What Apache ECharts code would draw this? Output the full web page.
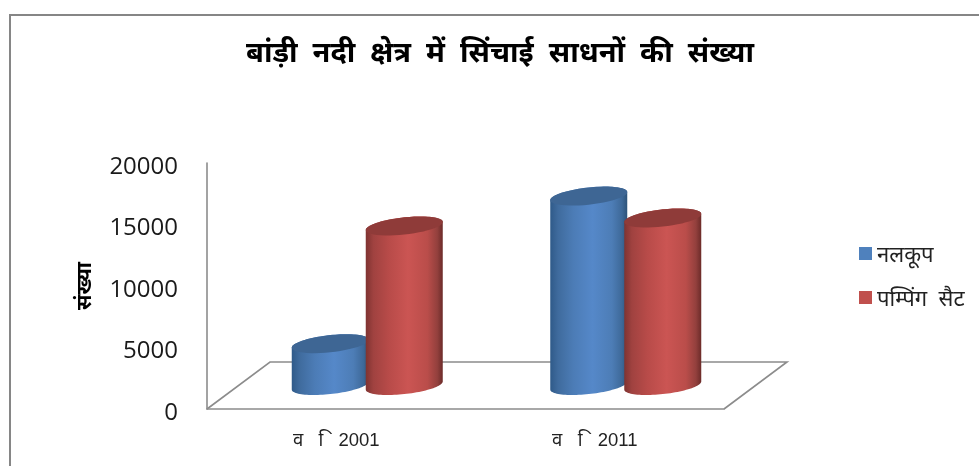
<!DOCTYPE html>
<html>
<head>
<meta charset="utf-8">
<style>html,body{margin:0;padding:0;background:#fff}#chart{width:979px;height:466px}</style>
<script src="https://cdn.jsdelivr.net/npm/echarts@6/dist/echarts.min.js"></script>
</head>
<body>
<div id="chart"></div>
<script>
// Irrigation sources in the Bandi river area
const categories = ['व\u00A0\u00A0\u00A0\u00A0ि\u00A0\u00A02001', 'व\u00A0\u00A0\u00A0\u00A0ि\u00A0\u00A02011'];
const tubewells = [3400, 15400];
const pumpsets = [12970, 13620];
const yTicks = { min: 0, max: 20000, interval: 5000 };

const titleText = 'बांड़ी  नदी  क्षेत्र  में  सिंचाई  साधनों  की  संख्या';
const yName = 'संख्या';
const nameTube = 'नलकूप';
const namePump = 'पम्पिंग  सैट';

const DEVA = '"Noto Sans Devanagari","Lohit Devanagari","Noto Sans","Liberation Sans","DejaVu Sans",sans-serif';
const LATIN_FIRST = '"Liberation Sans",' + DEVA;

// Floor depth of the pseudo 3D plot, and cylinder proportions
const depthX = 63, depthY = 47;
const radiusX = 38.5, radiusY = 8.6, tilt = 0.105;

function ellipsePoint(cx, cy, t) {
  const c = Math.cos(t), s = Math.sin(t);
  return [cx + radiusX * c, cy + radiusY * s - tilt * radiusX * c];
}
function arc(cx, cy, from, to) {
  const pts = [];
  for (let i = 0; i <= 48; i++) pts.push(ellipsePoint(cx, cy, from + (to - from) * i / 48));
  return pts;
}

function cylinderSeries(name, values, offset, swatch, stops, lid) {
  return {
    name, type: 'custom', data: values.map((v, i) => [i, v]),
    itemStyle: { color: swatch }, z: 3,
    encode: { x: 0, y: 1 },
    renderItem(params, api) {
      const top = api.coord([api.value(0), api.value(1)]);
      const base = api.coord([api.value(0), 0]);
      const cx = base[0] + depthX / 2 + offset;
      const baseY = base[1] - depthY / 2;
      const topY = top[1] - depthY / 2;
      const body = arc(cx, baseY, 0, Math.PI).concat(arc(cx, topY, Math.PI, 2 * Math.PI));
      return {
        type: 'group',
        children: [
          { type: 'polygon', shape: { points: body },
            style: { fill: { type: 'linear', x: 0, y: 0, x2: 1, y2: 0,
              colorStops: stops.map((c) => ({ offset: c[0], color: c[1] })) } } },
          { type: 'polygon', shape: { points: arc(cx, topY, 0, 2 * Math.PI) }, style: { fill: lid } }
        ]
      };
    }
  };
}

const floorSeries = {
  type: 'custom', data: [[0, 0]], silent: true, z: 1, legendHoverLink: false,
  renderItem(params) {
    const g = params.coordSys;
    const l = g.x, r = g.x + g.width, b = g.y + g.height;
    return {
      type: 'polyline',
      shape: { points: [[l, b], [l + depthX, b - depthY], [r + depthX, b - depthY], [r, b]] },
      style: { fill: null, stroke: '#8c8c8c', lineWidth: 1.6 }
    };
  }
};

const chart = echarts.init(document.getElementById('chart'), null, { renderer: 'canvas' });
chart.setOption({
  animation: false,
  backgroundColor: '#fff',
  title: {
    text: titleText, left: 500, top: 42, padding: 0, textAlign: 'center',
    textStyle: { fontFamily: DEVA, fontSize: 29, fontWeight: 'bold', color: '#000' }
  },
  legend: {
    orient: 'vertical', left: 859, top: 238.5, padding: 0, itemWidth: 13, itemHeight: 13, itemGap: 14,
    icon: 'rect', selectedMode: false,
    data: [nameTube, namePump],
    formatter: (n) => '{t|' + n + '}',
    textStyle: {
      rich: { t: { padding: [8, 0, 0, 0], fontFamily: DEVA, fontSize: 22, lineHeight: 22, color: '#222' } }
    }
  },
  grid: { left: 207, right: 255, top: 163, bottom: 57 },
  xAxis: {
    type: 'category', data: categories, boundaryGap: true,
    axisTick: { show: false },
    axisLine: { lineStyle: { color: '#8c8c8c', width: 1.6 } },
    axisLabel: { margin: 22, fontFamily: LATIN_FIRST, fontSize: 18.5, color: '#222' }
  },
  yAxis: {
    type: 'value', min: yTicks.min, max: yTicks.max, interval: yTicks.interval,
    name: yName, nameLocation: 'middle', nameGap: 109, nameRotate: 90,
    nameTextStyle: { fontFamily: DEVA, fontSize: 21, fontWeight: 'bold', color: '#000' },
    splitLine: { show: false }, axisTick: { show: false },
    axisLine: { show: true, lineStyle: { color: '#8c8c8c', width: 1.6 } },
    axisLabel: {
      margin: 29,
      formatter: (v) => '{t|' + v + '}',
      rich: { t: { padding: [8, 0, 0, 0], fontFamily: '"Open Sans",sans-serif', fontSize: 24, color: '#1a1a1a' } }
    }
  },
  graphic: [{
    type: 'polyline', silent: true, z: -1,
    shape: { points: [[10, 470], [10, 15], [985, 15]] },
    style: { fill: null, stroke: '#868686', lineWidth: 2 }
  }],
  series: [
    floorSeries,
    cylinderSeries(nameTube, tubewells, -37.5, '#4f81bd',
      [[0, '#2f5a89'], [0.1, '#3f6b9d'], [0.3, '#4c7cb6'], [0.55, '#5588c9'], [0.8, '#4d7db6'], [0.93, '#3e6999'], [1, '#2d5379']], '#3e6694'),
    cylinderSeries(namePump, pumpsets, 36.5, '#c0504d',
      [[0, '#7f3331'], [0.1, '#a04240'], [0.3, '#b84b49'], [0.55, '#cb5553'], [0.8, '#ba4d4a'], [0.93, '#93403d'], [1, '#6c2b29']], '#8f3b39')
  ]
});
</script>
</body>
</html>
